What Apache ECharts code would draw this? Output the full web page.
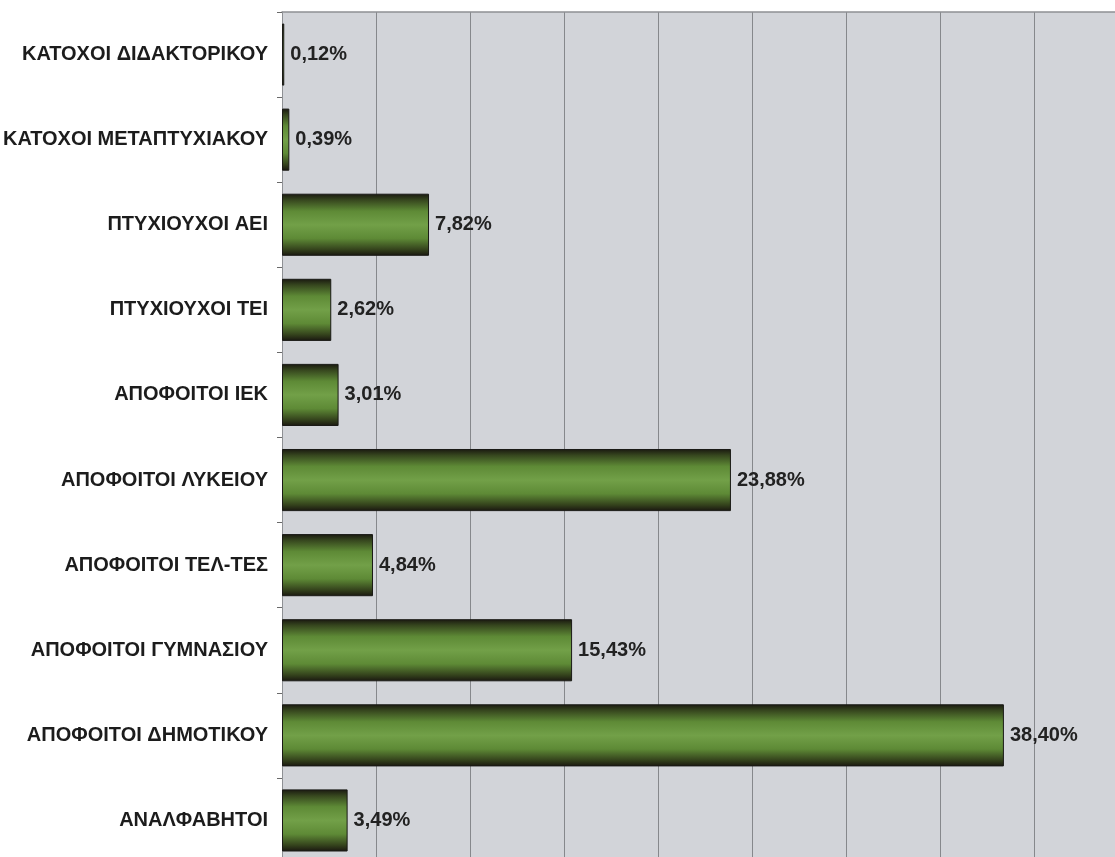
<!DOCTYPE html>
<html>
<head>
<meta charset="utf-8">
<script src="https://cdn.jsdelivr.net/npm/echarts@6/dist/echarts.min.js"></script>
<style>
  html, body { margin: 0; padding: 0; background: #fff; }
  #chart { width: 1115px; height: 857px; }
</style>
</head>
<body>
<div id="chart"></div>
<script>
const categories = [
  'ΚΑΤΟΧΟΙ ΔΙΔΑΚΤΟΡΙΚΟΥ',
  'ΚΑΤΟΧΟΙ ΜΕΤΑΠΤΥΧΙΑΚΟΥ',
  'ΠΤΥΧΙΟΥΧΟΙ ΑΕΙ',
  'ΠΤΥΧΙΟΥΧΟΙ ΤΕΙ',
  'ΑΠΟΦΟΙΤΟΙ ΙΕΚ',
  'ΑΠΟΦΟΙΤΟΙ ΛΥΚΕΙΟΥ',
  'ΑΠΟΦΟΙΤΟΙ ΤΕΛ-ΤΕΣ',
  'ΑΠΟΦΟΙΤΟΙ ΓΥΜΝΑΣΙΟΥ',
  'ΑΠΟΦΟΙΤΟΙ ΔΗΜΟΤΙΚΟΥ',
  'ΑΝΑΛΦΑΒΗΤΟΙ'
]
const percentages = [0.12, 0.39, 7.82, 2.62, 3.01, 23.88, 4.84, 15.43, 38.40, 3.49]

const labelFont = "'Liberation Sans', Arial, sans-serif"

const chart = echarts.init(document.getElementById('chart'))
chart.setOption({
  animation: false,
  grid: {
    top: 12,
    left: 282,
    right: -13, // ο άξονας συνεχίζει έξω από την εικόνα
    bottom: -6,
    outerBoundsMode: 'none',
    containLabel: false,
    show: true,
    backgroundColor: '#d2d4d9',
    borderWidth: 0
  },
  xAxis: {
    type: 'value',
    position: 'top',
    min: 0,
    max: 45,
    interval: 5,
    axisLine: { show: true, lineStyle: { color: '#8e9094', width: 1.5 } },
    axisTick: { show: false },
    axisLabel: { show: false },
    splitLine: { show: true, lineStyle: { color: '#86888c', width: 1 } }
  },
  yAxis: {
    type: 'category',
    inverse: true,
    data: categories,
    axisLine: { show: true, lineStyle: { color: '#8e9094', width: 1 } },
    axisTick: { show: true, length: 5, lineStyle: { color: '#6a6a6a' } },
    axisLabel: {
      margin: 14,
      color: '#1c1c1c',
      fontFamily: labelFont,
      fontWeight: 'bold',
      fontSize: 20
    }
  },
  series: [
    {
      type: 'bar',
      data: percentages,
      barWidth: '73%',
      itemStyle: {
        borderColor: '#1a1a16',
        borderWidth: 1,
        color: {
          type: 'linear',
          x: 0, y: 0, x2: 0, y2: 1,
          colorStops: [
            { offset: 0, color: '#191810' },
            { offset: 0.1, color: '#36461e' },
            { offset: 0.28, color: '#5e8a36' },
            { offset: 0.5, color: '#72a048' },
            { offset: 0.72, color: '#5e8a36' },
            { offset: 0.9, color: '#34421c' },
            { offset: 1, color: '#191610' }
          ]
        }
      },
      label: {
        show: true,
        position: 'right',
        distance: 6,
        color: '#222',
        fontFamily: labelFont,
        fontWeight: 'bold',
        fontSize: 20,
        formatter: p => p.value.toFixed(2).replace('.', ',') + '%'
      }
    }
  ]
})
</script>
</body>
</html>
